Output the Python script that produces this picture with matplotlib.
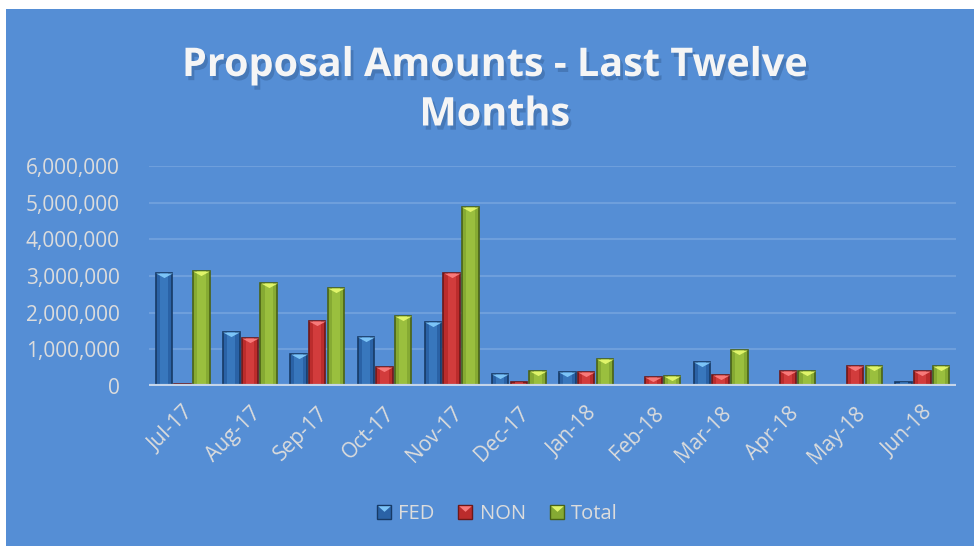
import numpy as np
import matplotlib.pyplot as plt
import matplotlib.patheffects as pe
from matplotlib.patches import Rectangle
from matplotlib.path import Path
from matplotlib.lines import Line2D
from matplotlib.legend_handler import HandlerTuple
from matplotlib.ticker import FuncFormatter

plt.rcParams['font.family'] = ['Open Sans', 'DejaVu Sans']

# data
months = ['Jul-17', 'Aug-17', 'Sep-17', 'Oct-17', 'Nov-17', 'Dec-17',
          'Jan-18', 'Feb-18', 'Mar-18', 'Apr-18', 'May-18', 'Jun-18']
fed = [3070000, 1480000, 870000, 1350000, 1750000, 320000,
       370000, 20000, 650000, 0, 0, 110000]
non = [50000, 1300000, 1760000, 510000, 3070000, 110000,
       370000, 240000, 300000, 410000, 545000, 410000]
total = [3140000, 2800000, 2660000, 1900000, 4890000, 410000,
         750000, 270000, 980000, 410000, 545000, 545000]

# name, values, face, edge, highlight, top triangle
series = [('FED', fed, '#2a62a6', '#173a66', '#3f80c8', '#7cc4f7'),
          ('NON', non, '#bb2c2c', '#6e1818', '#dc4444', '#f77a7a'),
          ('Total', total, '#86aa33', '#4a6316', '#a3c844', '#e0f46a')]

bg = '#558ed5'
txt = '#dcdcdc'

fig = plt.figure(figsize=(9.74, 5.47), dpi=100)
fig.patch.set_facecolor('white')
fig.patches.append(Rectangle((6 / 974, 1 / 547), 1 - 6 / 974, 537 / 547,
                             transform=fig.transFigure, facecolor=bg,
                             edgecolor='none', zorder=-5))

ax = fig.add_axes([0.153, 0.2943, 0.8285, 0.4022])
ax.set_facecolor('none')

# flat triangle marker, its top edge sits on the bar top
tri = Path([(-1, 0), (1, 0), (0, -0.55), (-1, 0)],
           [Path.MOVETO, Path.LINETO, Path.LINETO, Path.CLOSEPOLY])
# same triangle for the legend square (top edge at the square top)
tri_leg = Path([(-1, 1), (1, 1), (0, 0.1), (-1, 1)],
               [Path.MOVETO, Path.LINETO, Path.LINETO, Path.CLOSEPOLY])

x = np.arange(len(months)) + 0.5
offsets = [-0.277, 0.0, 0.28]
width = 0.245
handles = []
for (name, vals, col, edge, hi, light), off in zip(series, offsets):
    vals = np.array(vals)
    ax.bar(x + off, vals, width, color=col, edgecolor=edge, linewidth=1.2, zorder=3)
    # lighter middle strip for the rounded look
    ax.bar(x + off, vals, width * 0.5, color=hi, alpha=0.7, linewidth=0, zorder=3.5)
    mask = vals > 150000
    ax.plot(x[mask] + off, vals[mask], linestyle='none', marker=tri,
            markersize=12, color=light, markeredgewidth=0, zorder=4)
    handles.append((Line2D([], [], linestyle='none', marker='s', markersize=10,
                           markerfacecolor=col, markeredgecolor=edge, markeredgewidth=1),
                    Line2D([], [], linestyle='none', marker=tri_leg, markersize=9,
                           color=light, markeredgewidth=0)))

ax.set_xlim(0, 12)
ax.set_ylim(0, 6000000)
ax.set_yticks(np.arange(0, 6000001, 1000000))
ax.yaxis.set_major_formatter(FuncFormatter(lambda v, p: f'{int(v):,}'))
ax.grid(axis='y', color='#6e9fdc', linewidth=1.5, zorder=1)
ax.set_axisbelow(True)
for s in ax.spines.values():
    s.set_visible(False)
ax.axhline(0, color='#c5d5ea', linewidth=3, zorder=5)

ax.set_xticks(x)
ax.set_xticklabels(months, rotation=45, ha='right', rotation_mode='anchor')
ax.tick_params(axis='both', length=0, colors=txt, labelsize=15)
ax.tick_params(axis='x', pad=12)
ax.tick_params(axis='y', pad=21)

fig.text(0.508, 0.835, 'Proposal Amounts - Last Twelve\nMonths', ha='center',
         va='center', fontsize=28.5, fontweight='bold', color='#f5f5f5',
         linespacing=1.35,
         path_effects=[pe.withSimplePatchShadow(offset=(2, -3), shadow_rgbFace='#2a4f80', alpha=0.35)])

fig.legend(handles, ['FED', 'NON', 'Total'], loc='center',
           bbox_to_anchor=(0.51, 0.06), ncol=3, frameon=False,
           handler_map={tuple: HandlerTuple(ndivide=1, pad=0)},
           handlelength=0.8, handletextpad=0.3,
           columnspacing=1.15, fontsize=14.5, labelcolor=txt)

fig.savefig('out.png', dpi=100)
